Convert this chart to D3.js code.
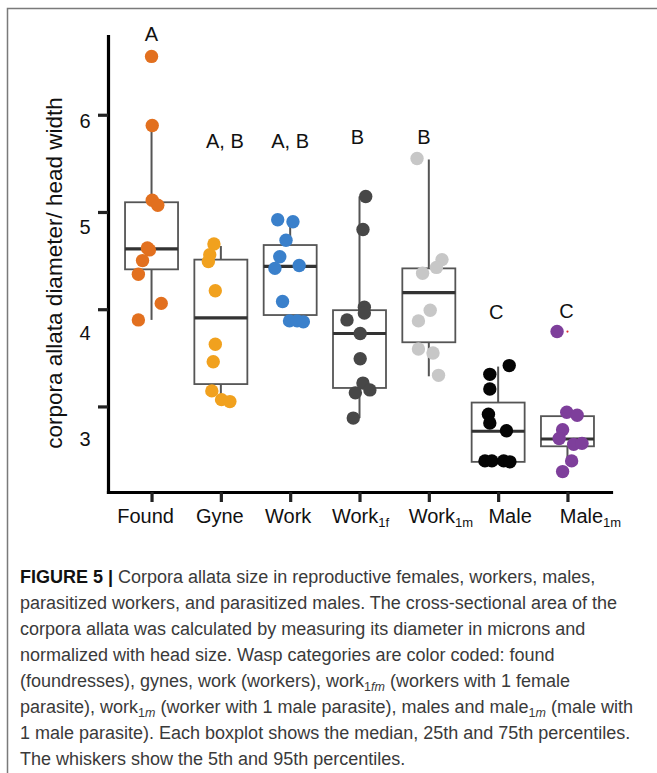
<!DOCTYPE html>
<html>
<head>
<meta charset="utf-8">
<script src="https://cdn.jsdelivr.net/npm/d3@7"></script>
<style>
  html, body { margin: 0; padding: 0; background: #fff; }
  svg { display: block; }
</style>
</head>
<body>
<svg id="fig" width="657" height="773"></svg>
<script>
// Wasp categories along the x axis
const categories = ["Found", "Gyne", "Work", "Work1f", "Work1m", "Male", "Male1m"];
const labelBase  = ["Found", "Gyne", "Work", "Work", "Work", "Male", "Male"];
const labelSub   = ["", "", "", "1f", "1m", "", "1m"];

// Corpora allata diameter / head width, one value per individual
const foundValues  = [6.60, 5.89, 5.12, 5.07, 4.63, 4.61, 4.50, 4.36, 4.06, 3.89];
const gyneValues   = [4.67, 4.56, 4.49, 4.19, 3.64, 3.46, 3.16, 3.07, 3.05];
const workValues   = [4.92, 4.90, 4.71, 4.54, 4.42, 4.45, 4.08, 3.88, 3.88, 3.87];
const work1fValues = [5.16, 4.82, 4.02, 3.96, 3.89, 3.75, 3.49, 3.24, 3.14, 3.17, 2.88];
const work1mValues = [5.55, 4.51, 4.43, 4.37, 3.99, 3.88, 3.59, 3.55, 3.32];
const maleValues   = [3.42, 3.33, 3.18, 2.92, 2.83, 2.75, 2.44, 2.44, 2.44, 2.43];
const male1mValues = [3.77, 2.94, 2.91, 2.76, 2.67, 2.61, 2.62, 2.44, 2.33];

// Horizontal jitter of each point, as a fraction of the category step
const foundJitter  = [0.00, 0.01, 0.01, 0.09, -0.06, -0.03, -0.13, -0.19, 0.14, -0.19];
const gyneJitter   = [-0.10, -0.16, -0.18, -0.08, -0.08, -0.11, -0.13, 0.01, 0.13];
const workJitter   = [-0.18, 0.04, -0.06, -0.15, -0.22, 0.13, -0.11, -0.01, 0.10, 0.19];
const work1fJitter = [0.09, 0.05, 0.07, 0.07, -0.18, 0.01, 0.01, 0.05, -0.06, 0.15, -0.09];
const work1mJitter = [-0.17, 0.19, 0.11, -0.09, 0.02, -0.15, -0.15, 0.06, 0.14];
const maleJitter   = [0.16, -0.12, -0.12, -0.14, -0.12, 0.12, -0.19, -0.09, 0.08, 0.17];
const male1mJitter = [-0.15, -0.01, 0.14, -0.07, -0.12, 0.09, 0.21, 0.06, -0.07];

// Boxplot summaries: whiskers at 5th/95th, box at 25th/75th percentiles
const whiskerLow  = [3.89, 3.12, 3.94, 2.88, 3.31, 2.43, 2.44];
const q1          = [4.41, 3.23, 3.94, 3.19, 3.66, 2.43, 2.59];
const medians     = [4.62, 3.91, 4.44, 3.75, 4.17, 2.745, 2.665];
const q3          = [5.10, 4.51, 4.66, 3.99, 4.42, 3.04, 2.90];
const whiskerHigh = [5.89, 4.65, 4.86, 5.16, 5.54, 3.41, 2.90];

// Outlier flagged by the boxplot (Male1m)
const outlierValues = [3.77];

// Significance letters and the height they sit at
const letters  = ["A", "A, B", "A, B", "B", "B", "C", "C"];
const letterAt = [6.83, 5.73, 5.73, 5.77, 5.77, 3.97, 3.98];

// Y axis ticks and their printed labels
const yTicks = [3, 4, 5, 6];
const yTickLabels = ["3", "4", "5", "6"];

const pointColors = ["#E2701F", "#F1A11E", "#3A80CB", "#474747", "#C7C7C7", "#050505", "#7E3F9B"];

const groups = [
  [foundValues, foundJitter], [gyneValues, gyneJitter], [workValues, workJitter],
  [work1fValues, work1fJitter], [work1mValues, work1mJitter],
  [maleValues, maleJitter], [male1mValues, male1mJitter]
];

const svg = d3.select("#fig");
const font = "'Liberation Sans', Arial, Helvetica, sans-serif";

// Figure frame
svg.append("rect")
  .attr("x", 7.5).attr("y", 8.5)
  .attr("width", 700).attr("height", 800)
  .attr("fill", "none").attr("stroke", "#7a7a7a").attr("stroke-width", 1.5);

// Scales
const y = d3.scaleLinear().domain([2.12, 6.81]).range([492, 36]);
const yLabel = d3.scaleLinear().domain([3, 6]).range([439, 121]);
const x = d3.scalePoint().domain(categories).range([108, 611]).padding(0.628);
const step = x.step();
const boxW = 53;
// category labels were placed by hand, slightly off their ticks
const labelNudge = [-6, -1, -2, 1, 12, 12, 23];
const letterNudge = [0, 4, 0, -2, -5, -2, -1];

const plot = svg.append("g");

// Axes
const yAxis = plot.append("g")
  .attr("transform", `translate(${x.range()[0]},0)`)
  .call(d3.axisLeft(y).tickValues(yTicks).tickFormat("").tickSize(10).tickSizeOuter(0));
const xAxis = plot.append("g")
  .attr("transform", `translate(0,${y.range()[0]})`)
  .call(d3.axisBottom(x).tickFormat("").tickSize(10).tickSizeOuter(0));
[yAxis, xAxis].forEach(a => {
  a.select(".domain").attr("stroke", "#000").attr("stroke-width", 3.2).attr("stroke-linecap", "square");
  a.selectAll(".tick line").attr("stroke", "#222").attr("stroke-width", 3.2);
});

// Y tick labels
plot.append("g").selectAll("text")
  .data(yTicks)
  .join("text")
  .attr("x", 85)
  .attr("y", (d) => yLabel(d))
  .attr("dy", "0.35em")
  .attr("text-anchor", "middle")
  .attr("font-family", font).attr("font-size", 20).attr("fill", "#111")
  .text((d, i) => yTickLabels[i]);

// Y axis title
svg.append("text")
  .attr("transform", "translate(62,273) rotate(-90)")
  .attr("text-anchor", "middle")
  .attr("font-family", font).attr("font-size", 22.5).attr("fill", "#111")
  .text("corpora allata diameter/ head width");

// X tick labels with subscripts
const xl = plot.append("g").selectAll("text")
  .data(categories)
  .join("text")
  .attr("x", (d, i) => x(d) + labelNudge[i])
  .attr("y", 523)
  .attr("text-anchor", "middle")
  .attr("font-family", font).attr("font-size", 20).attr("fill", "#111");
xl.append("tspan").text((d, i) => labelBase[i]);
xl.append("tspan")
  .attr("font-size", 13).attr("dy", 4)
  .text((d, i) => labelSub[i]);

// Whiskers
plot.append("g").selectAll("line")
  .data(categories)
  .join("line")
  .attr("x1", (d) => x(d)).attr("x2", (d) => x(d))
  .attr("y1", (d, i) => y(whiskerLow[i]))
  .attr("y2", (d, i) => y(whiskerHigh[i]))
  .attr("stroke", "#555").attr("stroke-width", 2);

// Boxes
plot.append("g").selectAll("rect")
  .data(categories)
  .join("rect")
  .attr("x", (d) => x(d) - boxW / 2)
  .attr("width", boxW)
  .attr("y", (d, i) => y(q3[i]))
  .attr("height", (d, i) => y(q1[i]) - y(q3[i]))
  .attr("fill", "#fff").attr("stroke", "#555").attr("stroke-width", 1.8);

// Medians
plot.append("g").selectAll("line")
  .data(categories)
  .join("line")
  .attr("x1", (d) => x(d) - boxW / 2).attr("x2", (d) => x(d) + boxW / 2)
  .attr("y1", (d, i) => y(medians[i])).attr("y2", (d, i) => y(medians[i]))
  .attr("stroke", "#333").attr("stroke-width", 3.2);

// Individual points
groups.forEach(([vals, jit], gi) => {
  plot.append("g").selectAll("circle")
    .data(vals)
    .join("circle")
    .attr("cx", (d, i) => x(categories[gi]) + jit[i] * step)
    .attr("cy", (d) => y(d))
    .attr("r", 6.7)
    .attr("fill", pointColors[gi]);
});

// Boxplot outlier marker
plot.append("g").selectAll("circle")
  .data(outlierValues)
  .join("circle")
  .attr("cx", x("Male1m"))
  .attr("cy", (d) => y(d))
  .attr("r", 1.1)
  .attr("fill", "#e03030");

// Significance letters
plot.append("g").selectAll("text")
  .data(categories)
  .join("text")
  .attr("x", (d, i) => x(d) + letterNudge[i])
  .attr("y", (d, i) => y(letterAt[i]))
  .attr("dy", "0.35em")
  .attr("text-anchor", "middle")
  .attr("font-family", font).attr("font-size", 20).attr("fill", "#111")
  .text((d, i) => letters[i]);

// Caption
const captionLines = [
  [["FIGURE 5 |", "b"], [" Corpora allata size in reproductive females, workers, males,", ""]],
  [["parasitized workers, and parasitized males. The cross-sectional area of the", ""]],
  [["corpora allata was calculated by measuring its diameter in microns and", ""]],
  [["normalized with head size. Wasp categories are color coded: found", ""]],
  [["(foundresses), gynes, work (workers), work", ""], ["1", "s"], ["fm", "si"], [" (workers with 1 female", "r"]],
  [["parasite), work", ""], ["1", "s"], ["m", "si"], [" (worker with 1 male parasite), males and male", "r"], ["1", "s"], ["m", "si"], [" (male with", "r"]],
  [["1 male parasite). Each boxplot shows the median, 25th and 75th percentiles.", ""]],
  [["The whiskers show the 5th and 95th percentiles.", ""]]
];

const cap = svg.append("g")
  .attr("font-family", font).attr("font-size", 18).attr("fill", "#3a3a3a");
captionLines.forEach((segs, li) => {
  const t = cap.append("text").attr("x", 20).attr("y", 583 + li * 26);
  let shifted = false;
  segs.forEach(([txt, st]) => {
    const ts = t.append("tspan").text(txt);
    if (st === "b") ts.attr("font-weight", "bold").attr("fill", "#111");
    if (st === "s" || st === "si") {
      ts.attr("font-size", 12.5);
      if (!shifted) { ts.attr("dy", 4); shifted = true; }
      if (st === "si") ts.attr("font-style", "italic");
    }
    if (st === "r") { ts.attr("dy", -4); shifted = false; }
  });
});
</script>
</body>
</html>
